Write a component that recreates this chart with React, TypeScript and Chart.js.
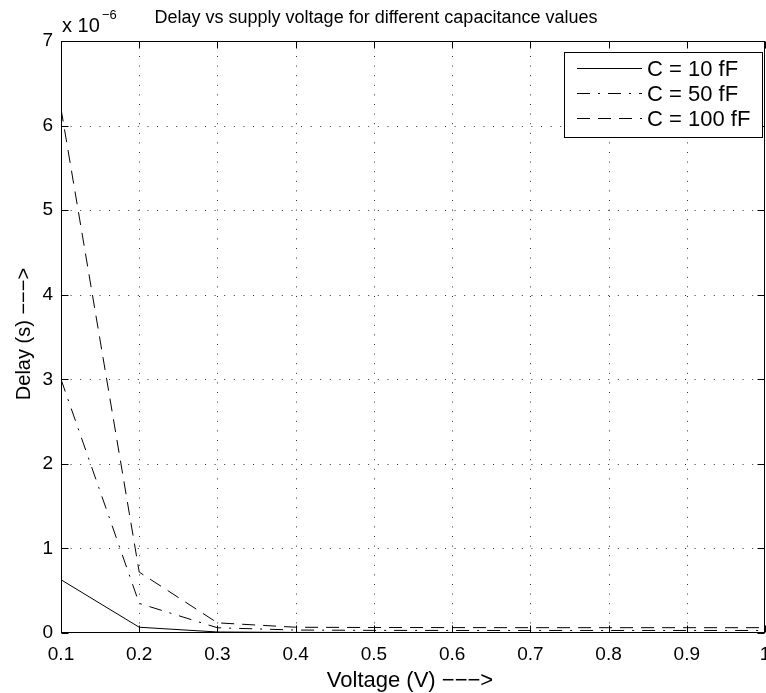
import React, { useEffect, useRef } from "react";
import { Chart, registerables } from "chart.js";

Chart.register(...registerables);

const voltages = [0.1, 0.2, 0.3, 0.4, 0.5, 0.6, 0.7, 0.8, 0.9, 1.0];
const delay10fF = [0.63e-6, 0.068e-6, 0.012e-6, 0.007e-6, 0.006e-6, 0.006e-6, 0.006e-6, 0.006e-6, 0.006e-6, 0.006e-6];
const delay50fF = [3.0e-6, 0.35e-6, 0.062e-6, 0.035e-6, 0.031e-6, 0.03e-6, 0.03e-6, 0.03e-6, 0.03e-6, 0.03e-6];
const delay100fF = [6.2e-6, 0.72e-6, 0.12e-6, 0.068e-6, 0.065e-6, 0.064e-6, 0.063e-6, 0.063e-6, 0.063e-6, 0.063e-6];
const seriesLabels = ["C = 10 fF", "C = 50 fF", "C = 100 fF"];
const xTickValues = [0.1, 0.2, 0.3, 0.4, 0.5, 0.6, 0.7, 0.8, 0.9, 1.0];
const yTickValues = [0, 1e-6, 2e-6, 3e-6, 4e-6, 5e-6, 6e-6, 7e-6];

const titleText = "Delay vs supply voltage for different capacitance values";
const xLabelText = "Voltage (V) \u2212\u2212\u2212>";
const yLabelText = "Delay (s) \u2212\u2212\u2212>";

const FONT = "'Liberation Sans', Arial, Helvetica, sans-serif";

const dashes: number[][] = [[], [13, 8, 2, 8], [13, 8]];

const matlabPlugin = {
  id: "matlabDecor",
  beforeDatasetsDraw(chart: any) {
    const { ctx, chartArea: a, scales } = chart;
    const xs = scales.x;
    const ys = scales.y;
    ctx.save();
    ctx.strokeStyle = "#333";
    ctx.lineWidth = 1;
    ctx.setLineDash([1, 8.6]);
    xs.ticks.forEach((t: any) => {
      const px = Math.round(xs.getPixelForValue(t.value)) + 0.5;
      if (px <= a.left + 1 || px >= a.right - 1) return;
      ctx.beginPath();
      ctx.moveTo(px, a.bottom);
      ctx.lineTo(px, a.top);
      ctx.stroke();
    });
    ys.ticks.forEach((t: any) => {
      const py = Math.round(ys.getPixelForValue(t.value)) + 0.5;
      if (py <= a.top + 1 || py >= a.bottom - 1) return;
      ctx.beginPath();
      ctx.moveTo(a.left, py);
      ctx.lineTo(a.right, py);
      ctx.stroke();
    });
    ctx.restore();
  },
  afterDatasetsDraw(chart: any) {
    const { ctx, chartArea: a, scales } = chart;
    const xs = scales.x;
    const ys = scales.y;
    ctx.save();
    ctx.setLineDash([]);
    ctx.strokeStyle = "#000";
    ctx.lineWidth = 1;
    const L = Math.round(a.left) + 0.5;
    const R = Math.round(a.right) - 0.5;
    const T = Math.round(a.top) + 0.5;
    const B = Math.round(a.bottom) - 0.5;
    ctx.strokeRect(L, T, R - L, B - T);
    const tl = 7;
    xs.ticks.forEach((t: any) => {
      const px = Math.round(xs.getPixelForValue(t.value)) + 0.5;
      ctx.beginPath();
      ctx.moveTo(px, B);
      ctx.lineTo(px, B - tl);
      ctx.moveTo(px, T);
      ctx.lineTo(px, T + tl);
      ctx.stroke();
    });
    ys.ticks.forEach((t: any) => {
      const py = Math.round(ys.getPixelForValue(t.value)) + 0.5;
      ctx.beginPath();
      ctx.moveTo(L, py);
      ctx.lineTo(L + tl, py);
      ctx.moveTo(R, py);
      ctx.lineTo(R - tl, py);
      ctx.stroke();
    });

    // legend
    const lx = 564.5, ly = 52.5, lw = 198, lh = 85;
    ctx.fillStyle = "#fff";
    ctx.fillRect(lx, ly, lw, lh);
    ctx.strokeRect(lx, ly, lw, lh);
    ctx.font = `22px ${FONT}`;
    ctx.textBaseline = "middle";
    ctx.textAlign = "left";
    chart.data.datasets.forEach((ds: any, i: number) => {
      const cy = Math.round(68 + i * 25) + 0.5;
      ctx.setLineDash(ds.borderDash || []);
      ctx.strokeStyle = "#000";
      ctx.beginPath();
      ctx.moveTo(577, cy);
      ctx.lineTo(642, cy);
      ctx.stroke();
      ctx.setLineDash([]);
      ctx.fillStyle = "#000";
      ctx.fillText(ds.label, 647, cy + 1);
    });

    // title
    ctx.fillStyle = "#000";
    ctx.textBaseline = "alphabetic";
    ctx.textAlign = "center";
    ctx.font = `18px ${FONT}`;
    ctx.fillText(titleText, 376, 23);

    // exponent
    ctx.textAlign = "left";
    ctx.font = `20px ${FONT}`;
    ctx.fillText("x 10", 62, 32);
    ctx.font = `13px ${FONT}`;
    ctx.fillText("\u22126", 102, 19);

    // axis labels
    ctx.font = `22px ${FONT}`;
    ctx.textAlign = "center";
    ctx.fillText(xLabelText, 410, 687);
    ctx.font = `20px ${FONT}`;
    ctx.save();
    ctx.translate(30, 334);
    ctx.rotate(-Math.PI / 2);
    ctx.fillText(yLabelText, 0, 0);
    ctx.restore();
    ctx.restore();
  },
};

export default function App() {
  const ref = useRef<HTMLCanvasElement | null>(null);
  useEffect(() => {
    if (!ref.current) return;
    const mk = (vals: number[]) => voltages.map((v, i) => ({ x: v, y: vals[i] }));
    const allSeries = [delay10fF, delay50fF, delay100fF];
    const chart = new Chart(ref.current, {
      type: "line",
      data: {
        datasets: allSeries.map((s, i) => ({
          label: seriesLabels[i],
          data: mk(s),
          borderColor: "#000",
          borderWidth: 1,
          borderDash: dashes[i],
          pointRadius: 0,
          tension: 0,
          fill: false,
        })),
      },
      options: {
        animation: false,
        responsive: false,
        layout: { padding: { left: 0, top: 41, right: 1, bottom: 0 } },
        plugins: { legend: { display: false }, tooltip: { enabled: false }, title: { display: false } },
        scales: {
          x: {
            type: "linear",
            min: 0.1,
            max: 1.0,
            afterBuildTicks: (s: any) => {
              s.ticks = xTickValues.map((v) => ({ value: v }));
            },
            afterFit: (s: any) => {
              s.height = 60;
              s.paddingLeft = 0;
              s.paddingRight = 0;
            },
            grid: { display: false, drawTicks: false },
            border: { display: false },
            ticks: {
              color: "#000",
              font: { family: FONT, size: 19 },
              padding: 10,
              maxRotation: 0,
              autoSkip: false,
              callback: (v: any) => String(Number(Number(v).toFixed(1))),
            },
          },
          y: {
            type: "linear",
            min: 0,
            max: 7e-6,
            afterBuildTicks: (s: any) => {
              s.ticks = yTickValues.map((v) => ({ value: v }));
            },
            afterFit: (s: any) => {
              s.width = 61;
              s.paddingTop = 0;
              s.paddingBottom = 0;
            },
            grid: { display: false, drawTicks: false },
            border: { display: false },
            ticks: {
              color: "#000",
              font: { family: FONT, size: 19 },
              padding: 8,
              autoSkip: false,
              callback: (v: any) => String(Math.round(Number(v) / 1e-6)),
            },
          },
        },
      },
      plugins: [matlabPlugin],
    });
    return () => chart.destroy();
  }, []);
  return (
    <div style={{ position: "absolute", left: 0, top: 0, width: 766, height: 693, background: "#fff" }}>
      <canvas ref={ref} width={766} height={693} style={{ display: "block" }} />
    </div>
  );
}
